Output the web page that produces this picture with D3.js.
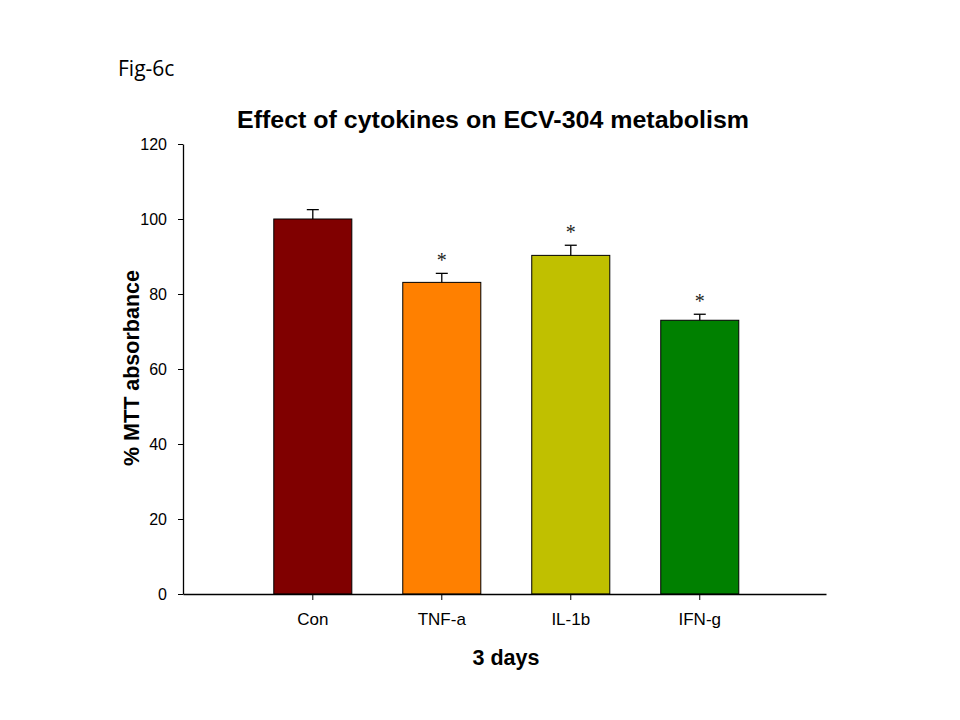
<!DOCTYPE html>
<html>
<head>
<meta charset="utf-8">
<script src="https://cdn.jsdelivr.net/npm/d3@7"></script>
<style>
  body { margin: 0; background: #fff; }
  text { font-family: Arial, "Liberation Sans", sans-serif; }
</style>
</head>
<body>
<div id="chart"></div>
<script>
// data
var groups = ["Con", "TNF-a", "IL-1b", "IFN-g"];
var means = [100, 83.1, 90.3, 73.0];
var errors = [2.5, 2.4, 2.7, 1.6];
var starred = [false, true, true, true];
var barColors = ["#800000", "#FF8000", "#C0C000", "#008000"];
var yTicks = [0, 20, 40, 60, 80, 100, 120];

var width = 960, height = 720;

var svg = d3.select("#chart")
  .append("svg")
    .attr("width", width)
    .attr("height", height);

// scales
var x = d3.scaleBand()
  .domain(groups)
  .range([183, 826])
  .paddingInner(0.395)
  .paddingOuter(0.69)
  .align(0.51);

var y = d3.scaleLinear()
  .domain([0, 120])
  .range([594, 144]);

// figure tag
svg.append("text")
  .attr("x", 118)
  .attr("y", 76)
  .style("font-family", "'Open Sans', 'Noto Sans', sans-serif")
  .style("font-size", "21px")
  .text("Fig-6c");

// title
svg.append("text")
  .attr("x", 493)
  .attr("y", 128)
  .attr("text-anchor", "middle")
  .attr("textLength", 512)
  .attr("lengthAdjust", "spacingAndGlyphs")
  .style("font-size", "24px")
  .style("font-weight", "bold")
  .text("Effect of cytokines on ECV-304 metabolism");

// bars
svg.append("g")
  .selectAll("rect")
  .data(groups)
  .enter().append("rect")
    .attr("x", function(d) { return x(d); })
    .attr("y", function(d, i) { return y(means[i]); })
    .attr("width", x.bandwidth())
    .attr("height", function(d, i) { return y(0) - y(means[i]); })
    .attr("fill", function(d, i) { return barColors[i]; })
    .attr("stroke", "black")
    .attr("stroke-width", 1);

// error bars (upper only)
var err = svg.append("g").attr("stroke", "black").attr("stroke-width", 1.3);
groups.forEach(function(d, i) {
  var cx = x(d) + x.bandwidth() / 2;
  err.append("line")
    .attr("x1", cx).attr("x2", cx)
    .attr("y1", y(means[i])).attr("y2", y(means[i] + errors[i]));
  err.append("line")
    .attr("x1", cx - 6).attr("x2", cx + 6)
    .attr("y1", y(means[i] + errors[i])).attr("y2", y(means[i] + errors[i]));
});

// significance marks
svg.append("g")
  .selectAll("text")
  .data(groups.filter(function(d, i) { return starred[i]; }))
  .enter().append("text")
    .attr("x", function(d) { return x(d) + x.bandwidth() / 2; })
    .attr("y", function(d) {
      var i = groups.indexOf(d);
      return y(means[i] + errors[i]) - 6;
    })
    .attr("text-anchor", "middle")
    .attr("fill", "#222")
    .style("font-family", "'Liberation Serif', 'DejaVu Serif', serif")
    .style("font-size", "20px")
    .text("*");

// Y axis
var yAxis = svg.append("g")
  .attr("transform", "translate(183,0)")
  .call(d3.axisLeft(y).tickValues(yTicks).tickSize(5).tickSizeOuter(0).tickPadding(11));

// X axis
var xAxis = svg.append("g")
  .attr("transform", "translate(0,594)")
  .call(d3.axisBottom(x).tickSize(6).tickSizeOuter(0).tickPadding(13));

[yAxis, xAxis].forEach(function(a) {
  a.select(".domain").attr("stroke", "black").attr("stroke-width", 1.3);
  a.selectAll(".tick line").attr("stroke", "black").attr("stroke-width", 1);
  a.selectAll(".tick text")
    .style("font-family", "Arial, 'Liberation Sans', sans-serif")
    .attr("fill", "black");
});
yAxis.selectAll(".tick text").style("font-size", "16px");
xAxis.selectAll(".tick text").style("font-size", "17px");

// axis titles
svg.append("text")
  .attr("transform", "translate(139,368) rotate(-90)")
  .attr("text-anchor", "middle")
  .style("font-size", "21.5px")
  .style("font-weight", "bold")
  .text("% MTT absorbance");

svg.append("text")
  .attr("x", 506)
  .attr("y", 665)
  .attr("text-anchor", "middle")
  .style("font-size", "21.5px")
  .style("font-weight", "bold")
  .text("3 days");
</script>
</body>
</html>
